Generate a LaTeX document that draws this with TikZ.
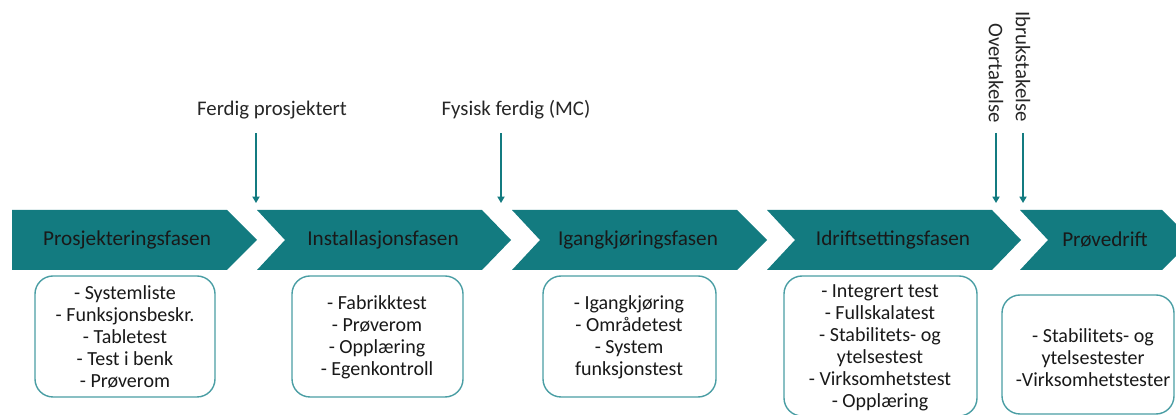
\documentclass[tikz,border=0pt]{standalone}
\usepackage{fontspec}
\setmainfont{Carlito}
\usetikzlibrary{arrows.meta}

\definecolor{phasefill}{HTML}{137B80}
\definecolor{boxline}{HTML}{4A9EA4}

\tikzset{
  phase/.style={fill=phasefill},
  phasetext/.style={font=\fontsize{10.6}{12}\selectfont, text=black!90},
  testbox/.style={draw=boxline, line width=0.7pt, rounded corners=9pt, fill=white},
  testtext/.style={align=center, font=\fontsize{10}{11}\selectfont, text=black!90},
  milestone/.style={font=\fontsize{10.4}{12}\selectfont, text=black!85},
  msarrow/.style={draw=phasefill, line width=0.6pt, -{Triangle[width=3.6pt,length=3.2pt]}}
}

\begin{document}
\begin{tikzpicture}[x=0.5pt,y=-0.5pt]
      \useasboundingbox (0,0) rectangle (1176,415);

      % phases
      \fill[phase] (12,210) -- (227,210) -- (257,240) -- (227,270) -- (12,270) -- cycle;
      \fill[phase] (257,210) -- (482,210) -- (511,240) -- (482,270) -- (257,270) -- (285,240) -- cycle;
      \fill[phase] (512,210) -- (737,210) -- (767,240) -- (737,270) -- (512,270) -- (540,240) -- cycle;
      \fill[phase] (767,210) -- (992,210) -- (1021,240) -- (992,270) -- (767,270) -- (795,240) -- cycle;
      \fill[phase] (1020,210) -- (1162,210) -- (1192,240) -- (1162,270) -- (1020,270) -- (1048,240) -- cycle;

      \node[phasetext] (prosjektering) at (127,240) {Prosjekteringsfasen};
      \node[phasetext] (installasjon) at (383,240) {Installasjonsfasen};
      \node[phasetext] (igangkjoring) at (638,240) {Igangkjøringsfasen};
      \node[phasetext] (idriftsetting) at (893,240) {Idriftsettingsfasen};
      \node[phasetext] (provedrift) at (1105,240) {Prøvedrift};

      % tests per phase
      \draw[testbox] (35,276) rectangle (215,397);
      \draw[testbox] (292,276) rectangle (463,397);
      \draw[testbox] (543,276) rectangle (716,397);
      \draw[testbox] (784,276) rectangle (977,416);
      \draw[testbox] (1002,295) rectangle (1174,414);

      \node[testtext] (tests1) at (125,337) {- Systemliste\\- Funksjonsbeskr.\\- Tabletest\\- Test i benk\\- Prøverom};
      \node[testtext] (tests2) at (377,337) {- Fabrikktest\\- Prøverom\\- Opplæring\\- Egenkontroll};
      \node[testtext] (tests3) at (629,337) {- Igangkjøring\\- Områdetest\\- System\\funksjonstest};
      \node[testtext] (tests4) at (880,348) {- Integrert test\\- Fullskalatest\\- Stabilitets- og\\ytelsestest\\- Virksomhetstest\\- Opplæring};
      \node[testtext] (tests5) at (1093,358) {- Stabilitets- og\\ytelsestester\\-Virksomhetstester};

      % milestones
      \node[milestone] (prosjektert) at (272,110) {Ferdig prosjektert};
      \node[milestone] (fysisk) at (516,110) {Fysisk ferdig (MC)};
      \node[milestone, rotate=-90, anchor=east] (overtakelse) at (996,130) {Overtakelse};
      \node[milestone, rotate=-90, anchor=east] (ibruk) at (1023,129) {Ibrukstakelse};

      \coordinate (prosjektert end) at (256,203);
      \coordinate (fysisk end) at (501,203);
      \coordinate (overtakelse end) at (996,203);
      \coordinate (ibruk end) at (1023,203);

      \draw[msarrow] (prosjektert.south -| prosjektert end) ++(0,7) -- (prosjektert end);
      \draw[msarrow] (fysisk.south -| fysisk end) ++(0,7) -- (fysisk end);
      \draw[msarrow] (overtakelse.east) ++(0,3) -- (overtakelse end);
      \draw[msarrow] (ibruk.east) ++(0,4) -- (ibruk end);
    \end{tikzpicture}
\end{document}
